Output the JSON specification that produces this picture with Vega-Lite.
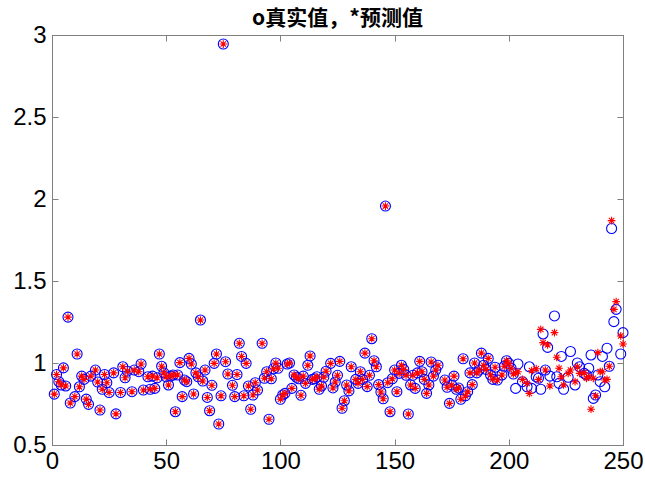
{
  "$schema": "https://vega.github.io/schema/vega-lite/v6.json",
  "autosize": "none",
  "width": 571,
  "height": 410,
  "padding": {"left": 52, "top": 35, "right": 22, "bottom": 33},
  "background": "white",
  "title": {"text": "o真实值，*预测值", "font": "Noto Sans CJK SC", "fontSize": 21, "fontWeight": "bold", "color": "black", "offset": -6},
  "config": {"view": {"stroke": "#808080", "strokeWidth": 1}},
  "data": {"values": [
    {"i":1,"t":0.81,"p":0.81},{"i":2,"t":0.93,"p":0.93},{"i":3,"t":0.886,"p":0.886},{"i":4,"t":0.866,"p":0.866},{"i":5,"t":0.97,"p":0.97},
    {"i":6,"t":0.86,"p":0.86},{"i":7,"t":1.28,"p":1.28},{"i":8,"t":0.756,"p":0.756},{"i":10,"t":0.795,"p":0.795},{"i":11,"t":1.055,"p":1.055},
    {"i":12,"t":0.855,"p":0.855},{"i":13,"t":0.92,"p":0.92},{"i":14,"t":0.9,"p":0.9},{"i":15,"t":0.78,"p":0.78},{"i":16,"t":0.748,"p":0.748},
    {"i":17,"t":0.92,"p":0.92},{"i":19,"t":0.957,"p":0.957},{"i":20,"t":0.884,"p":0.884},{"i":21,"t":0.713,"p":0.713},{"i":22,"t":0.84,"p":0.84},
    {"i":23,"t":0.93,"p":0.93},{"i":24,"t":0.88,"p":0.88},{"i":25,"t":0.82,"p":0.82},{"i":27,"t":0.94,"p":0.94},{"i":28,"t":0.69,"p":0.69},
    {"i":30,"t":0.82,"p":0.82},{"i":31,"t":0.977,"p":0.977},{"i":32,"t":0.91,"p":0.91},{"i":33,"t":0.95,"p":0.95},{"i":35,"t":0.825,"p":0.825},
    {"i":36,"t":0.957,"p":0.957},{"i":38,"t":0.947,"p":0.947},{"i":39,"t":0.994,"p":0.994},{"i":40,"t":0.835,"p":0.835},{"i":42,"t":0.916,"p":0.916},
    {"i":43,"t":0.84,"p":0.84},{"i":44,"t":0.92,"p":0.92},{"i":45,"t":0.845,"p":0.845},{"i":46,"t":0.91,"p":0.91},{"i":47,"t":1.055,"p":1.055},
    {"i":48,"t":0.98,"p":0.98},{"i":49,"t":0.94,"p":0.94},{"i":50,"t":0.916,"p":0.916},{"i":51,"t":0.866,"p":0.866},{"i":52,"t":0.92,"p":0.92},
    {"i":53,"t":0.927,"p":0.927},{"i":54,"t":0.703,"p":0.703},{"i":55,"t":0.927,"p":0.927},{"i":56,"t":1.002,"p":1.002},{"i":57,"t":0.795,"p":0.795},
    {"i":58,"t":0.896,"p":0.896},{"i":59,"t":0.886,"p":0.886},{"i":60,"t":1.028,"p":1.028},{"i":61,"t":0.994,"p":0.994},{"i":62,"t":0.811,"p":0.811},
    {"i":63,"t":0.94,"p":0.94},{"i":64,"t":0.916,"p":0.916},{"i":65,"t":1.262,"p":1.262},{"i":66,"t":0.89,"p":0.89},{"i":67,"t":0.957,"p":0.957},
    {"i":68,"t":0.79,"p":0.79},{"i":69,"t":0.709,"p":0.709},{"i":70,"t":0.864,"p":0.864},{"i":71,"t":0.998,"p":0.998},{"i":72,"t":1.055,"p":1.055},
    {"i":73,"t":0.628,"p":0.628},{"i":74,"t":0.8,"p":0.8},{"i":75,"t":2.945,"p":2.945},{"i":76,"t":1.008,"p":1.008},{"i":77,"t":0.933,"p":0.933},
    {"i":79,"t":0.864,"p":0.864},{"i":80,"t":0.795,"p":0.795},{"i":81,"t":0.93,"p":0.93},{"i":82,"t":1.12,"p":1.12},{"i":83,"t":1.04,"p":1.04},
    {"i":84,"t":0.8,"p":0.8},{"i":85,"t":0.998,"p":0.998},{"i":86,"t":0.86,"p":0.86},{"i":87,"t":0.718,"p":0.718},{"i":88,"t":0.805,"p":0.805},
    {"i":89,"t":0.88,"p":0.88},{"i":90,"t":0.835,"p":0.835},{"i":92,"t":1.12,"p":1.12},{"i":93,"t":0.907,"p":0.907},{"i":94,"t":0.947,"p":0.947},
    {"i":95,"t":0.657,"p":0.657},{"i":96,"t":0.904,"p":0.904},{"i":97,"t":0.965,"p":0.965},{"i":98,"t":1.0,"p":1.0},{"i":99,"t":0.968,"p":0.968},
    {"i":100,"t":0.779,"p":0.779},{"i":101,"t":0.805,"p":0.805},{"i":102,"t":0.815,"p":0.815},{"i":103,"t":0.994,"p":0.994},{"i":104,"t":1.0,"p":1.0},
    {"i":105,"t":0.845,"p":0.845},{"i":106,"t":0.927,"p":0.927},{"i":107,"t":0.913,"p":0.913},{"i":108,"t":0.904,"p":0.904},{"i":109,"t":0.803,"p":0.803},
    {"i":110,"t":0.92,"p":0.92},{"i":111,"t":0.876,"p":0.876},{"i":112,"t":0.986,"p":0.986},{"i":113,"t":1.043,"p":1.043},{"i":114,"t":0.9,"p":0.9},
    {"i":115,"t":0.904,"p":0.904},{"i":116,"t":0.916,"p":0.916},{"i":117,"t":0.84,"p":0.84},{"i":118,"t":0.86,"p":0.86},{"i":119,"t":0.913,"p":0.913},
    {"i":120,"t":0.95,"p":0.95},{"i":122,"t":0.998,"p":0.998},{"i":123,"t":0.848,"p":0.848},{"i":124,"t":0.884,"p":0.884},{"i":125,"t":0.925,"p":0.925},
    {"i":126,"t":1.01,"p":1.01},{"i":127,"t":0.724,"p":0.724},{"i":128,"t":0.77,"p":0.77},{"i":129,"t":0.866,"p":0.866},{"i":130,"t":0.83,"p":0.83},
    {"i":131,"t":0.977,"p":0.977},{"i":133,"t":0.9,"p":0.9},{"i":134,"t":0.876,"p":0.876},{"i":135,"t":0.947,"p":0.947},{"i":136,"t":0.9,"p":0.9},
    {"i":137,"t":1.06,"p":1.06},{"i":138,"t":0.856,"p":0.856},{"i":139,"t":0.925,"p":0.925},{"i":140,"t":1.148,"p":1.148},{"i":141,"t":1.014,"p":1.014},
    {"i":142,"t":0.977,"p":0.977},{"i":143,"t":0.868,"p":0.868},{"i":144,"t":0.823,"p":0.823},{"i":145,"t":0.782,"p":0.782},{"i":146,"t":1.957,"p":1.957},
    {"i":147,"t":0.88,"p":0.88},{"i":148,"t":0.703,"p":0.703},{"i":149,"t":0.904,"p":0.904},{"i":150,"t":0.957,"p":0.957},{"i":151,"t":0.825,"p":0.825},
    {"i":152,"t":0.937,"p":0.937},{"i":153,"t":0.986,"p":0.986},{"i":154,"t":0.961,"p":0.961},{"i":155,"t":0.925,"p":0.925},{"i":156,"t":0.689,"p":0.689},
    {"i":157,"t":0.866,"p":0.866},{"i":158,"t":0.925,"p":0.925},{"i":159,"t":0.845,"p":0.845},{"i":160,"t":0.94,"p":0.94},{"i":161,"t":1.01,"p":1.01},
    {"i":162,"t":0.947,"p":0.947},{"i":163,"t":0.9,"p":0.9},{"i":164,"t":0.815,"p":0.815},{"i":165,"t":0.866,"p":0.866},{"i":166,"t":1.006,"p":1.006},
    {"i":167,"t":0.92,"p":0.92},{"i":168,"t":0.957,"p":0.957},{"i":169,"t":0.986,"p":0.986},{"i":172,"t":0.896,"p":0.896},{"i":173,"t":0.852,"p":0.852},
    {"i":174,"t":0.754,"p":0.754},{"i":175,"t":0.866,"p":0.866},{"i":176,"t":0.92,"p":0.92},{"i":177,"t":0.84,"p":0.84},{"i":178,"t":0.848,"p":0.848},
    {"i":179,"t":0.779,"p":0.779},{"i":180,"t":1.026,"p":1.026},{"i":181,"t":0.8,"p":0.8},{"i":182,"t":0.825,"p":0.825},{"i":183,"t":0.94,"p":0.94},
    {"i":184,"t":0.868,"p":0.868},{"i":185,"t":1.0,"p":1.0},{"i":186,"t":0.94,"p":0.94},{"i":187,"t":0.957,"p":0.957},{"i":188,"t":1.06,"p":1.06},
    {"i":189,"t":0.986,"p":0.986},{"i":190,"t":0.961,"p":0.961},{"i":191,"t":1.028,"p":1.028},{"i":192,"t":0.927,"p":0.927},{"i":193,"t":0.9,"p":0.9},
    {"i":194,"t":0.974,"p":0.974},{"i":195,"t":0.896,"p":0.896},{"i":197,"t":0.927,"p":0.927},{"i":198,"t":0.98,"p":0.98},{"i":199,"t":1.014,"p":1.014},
    {"i":200,"t":0.998,"p":0.998},{"i":201,"t":0.968,"p":0.968},{"i":202,"t":0.933,"p":0.933},{"i":203,"t":0.845,"p":0.937},{"i":204,"t":0.994,"p":0.947},
    {"i":206,"t":0.886,"p":0.9},{"i":208,"t":0.855,"p":0.876},{"i":209,"t":0.977,"p":0.815},{"i":210,"t":0.845,"p":0.953},{"i":212,"t":0.916,"p":0.965},
    {"i":213,"t":0.907,"p":0.9},{"i":214,"t":0.84,"p":1.205},{"i":215,"t":1.177,"p":1.124},{"i":216,"t":0.957,"p":0.957},{"i":217,"t":1.095,"p":1.11},
    {"i":218,"t":0.92,"p":0.86},{"i":220,"t":1.287,"p":1.185},{"i":221,"t":0.916,"p":1.035},{"i":222,"t":0.876,"p":0.968},{"i":223,"t":1.04,"p":0.916},
    {"i":224,"t":0.84,"p":0.866},{"i":226,"t":0.913,"p":0.937},{"i":227,"t":1.07,"p":0.957},{"i":229,"t":0.866,"p":0.886},{"i":230,"t":1.0,"p":0.977},
    {"i":231,"t":0.977,"p":0.937},{"i":233,"t":0.937,"p":0.94},{"i":234,"t":0.927,"p":0.907},{"i":235,"t":0.968,"p":0.916},{"i":236,"t":1.049,"p":0.718},
    {"i":237,"t":0.784,"p":0.907},{"i":238,"t":0.805,"p":0.8},{"i":239,"t":0.927,"p":1.063},{"i":240,"t":0.886,"p":0.947},{"i":241,"t":1.04,"p":0.947},
    {"i":242,"t":0.855,"p":0.896},{"i":243,"t":1.09,"p":0.9},{"i":244,"t":0.98,"p":0.98},{"i":245,"t":1.82,"p":1.868},{"i":246,"t":1.252,"p":1.327},
    {"i":247,"t":1.327,"p":1.374},{"i":249,"t":1.055,"p":1.165},{"i":250,"t":1.185,"p":1.116}
  ]},
  "resolve": {"scale": {"x": "independent", "y": "independent"}},
  "layer": [
    {
      "encoding": {
        "x": {"field": "i", "type": "quantitative", "title": null,
          "scale": {"domain": [0, 250], "nice": false, "zero": false},
          "axis": {"values": [0, 50, 100, 150, 200, 250], "format": "d", "grid": false, "domainColor": "#808080", "tickColor": "#808080", "tickSize": -6, "labelPadding": 10, "labelFont": "Liberation Sans", "labelFontSize": 24, "labelColor": "black", "labelFlush": false, "labelOverlap": false}},
        "y": {"field": "t", "type": "quantitative", "title": null,
          "scale": {"domain": [0.5, 3], "nice": false, "zero": false},
          "axis": {"values": [0.5, 1, 1.5, 2, 2.5, 3], "format": "~g", "grid": false, "domainColor": "#808080", "tickColor": "#808080", "tickSize": -6, "labelPadding": 12, "labelFont": "Liberation Sans", "labelFontSize": 24, "labelColor": "black", "labelFlush": false, "labelOverlap": false}}
      },
      "layer": [
        {"mark": {"type": "point", "shape": "circle", "filled": false, "stroke": "#0000ff", "strokeWidth": 1.1, "size": 100, "opacity": 1, "clip": false}},
        {"mark": {"type": "point", "shape": "M0,-1L0,1M-1,0L1,0M-0.7,-0.7L0.7,0.7M-0.7,0.7L0.7,-0.7", "filled": false, "stroke": "#ff0000", "strokeWidth": 1.1, "size": 60, "opacity": 1, "clip": false},
         "encoding": {"y": {"field": "p", "type": "quantitative"}}}
      ]
    },
    {
      "mark": {"type": "point", "opacity": 0},
      "encoding": {
        "x": {"field": "i", "type": "quantitative", "title": null,
          "scale": {"domain": [0, 250], "nice": false, "zero": false},
          "axis": {"orient": "top", "values": [0, 50, 100, 150, 200, 250], "grid": false, "labels": false, "domainColor": "#808080", "tickColor": "#808080", "tickSize": -6}},
        "y": {"field": "t", "type": "quantitative", "title": null,
          "scale": {"domain": [0.5, 3], "nice": false, "zero": false},
          "axis": {"orient": "right", "values": [0.5, 1, 1.5, 2, 2.5, 3], "grid": false, "labels": false, "domainColor": "#808080", "tickColor": "#808080", "tickSize": -6}}
      }
    }
  ]
}
